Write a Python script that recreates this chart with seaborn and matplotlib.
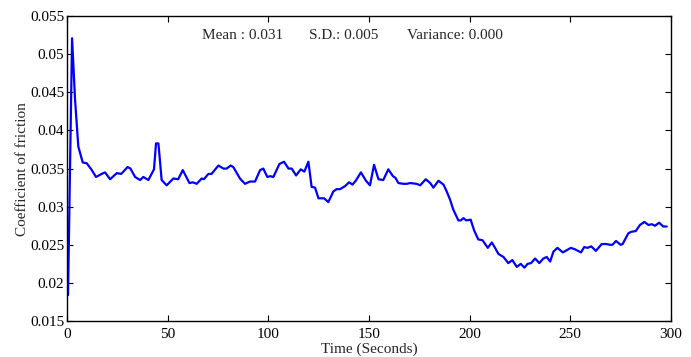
import matplotlib
matplotlib.use("Agg")
import matplotlib.pyplot as plt
import seaborn as sns
import pandas as pd

time_s = [0.5, 2.5, 4.0, 5.6, 7.8, 9.8, 12.3, 14.4, 17.2, 18.9, 21.4, 24.7, 26.9, 30.1, 31.5,
          33.8, 36.3, 37.9, 40.4, 43.2, 44.2, 45.4, 47.0, 49.5, 52.8, 55.2, 57.5, 60.8, 62.4,
          64.4, 66.9, 68.0, 70.2, 71.8, 75.2, 77.7, 79.3, 81.3, 82.6, 85.9, 88.4, 90.9, 93.4,
          95.9, 97.5, 99.5, 100.9, 102.5, 105.5, 107.8, 110.0, 111.6, 113.8, 116.1, 117.9,
          119.9, 121.5, 123.2, 124.9, 126.5, 127.7, 129.8, 132.3, 133.9, 135.6, 138.1, 140.1,
          141.8, 143.4, 146.0, 148.5, 150.5, 152.5, 154.7, 157.1, 159.6, 161.9, 163.1, 164.6,
          167.1, 168.8, 170.4, 173.7, 175.4, 178.2, 180.4, 182.0, 184.5, 187.0, 188.6, 190.3,
          191.9, 194.4, 195.6, 196.9, 198.3, 200.5, 202.2, 204.3, 206.4, 209.0, 211.0, 212.4,
          214.3, 216.8, 219.2, 221.2, 223.4, 225.4, 227.2, 228.8, 230.5, 232.5, 234.6, 236.6,
          238.3, 240.0, 241.6, 243.6, 246.3, 248.3, 250.3, 252.4, 255.3, 256.9, 258.6, 260.4,
          262.7, 265.6, 267.8, 269.8, 270.9, 272.7, 275.0, 276.0, 278.8, 280.2, 282.5, 284.6,
          286.8, 288.8, 290.5, 292.1, 294.1, 296.2, 297.9]
cof = [0.0184, 0.0521, 0.0440, 0.0379, 0.0358, 0.0357, 0.0348, 0.0339, 0.0343, 0.0345, 0.0336,
       0.0344, 0.0343, 0.0352, 0.0350, 0.0339, 0.0335, 0.0339, 0.0335, 0.0349, 0.0383, 0.0383,
       0.0335, 0.0328, 0.0337, 0.0336, 0.0348, 0.0331, 0.0332, 0.0330, 0.0337, 0.0336, 0.0343,
       0.0343, 0.0354, 0.0350, 0.0350, 0.0354, 0.0352, 0.0337, 0.0330, 0.0333, 0.0333, 0.0348,
       0.0350, 0.0339, 0.0340, 0.0339, 0.0356, 0.0359, 0.0350, 0.0350, 0.0341, 0.0349, 0.0346,
       0.0359, 0.0326, 0.0325, 0.0311, 0.0311, 0.0311, 0.0306, 0.0320, 0.0323, 0.0323, 0.0327,
       0.0332, 0.0329, 0.0334, 0.0345, 0.0334, 0.0328, 0.0355, 0.0336, 0.0335, 0.0349, 0.0340,
       0.0338, 0.0331, 0.0330, 0.0330, 0.0331, 0.0330, 0.0328, 0.0336, 0.0331, 0.0325, 0.0334,
       0.0329, 0.0320, 0.0309, 0.0296, 0.0282, 0.0282, 0.0285, 0.0282, 0.0283, 0.0269, 0.0257,
       0.0256, 0.0246, 0.0253, 0.0247, 0.0238, 0.0234, 0.0226, 0.0230, 0.0221, 0.0225, 0.0220,
       0.0225, 0.0226, 0.0232, 0.0226, 0.0232, 0.0234, 0.0228, 0.0241, 0.0246, 0.0240, 0.0243,
       0.0246, 0.0244, 0.0240, 0.0247, 0.0246, 0.0248, 0.0242, 0.0251, 0.0251, 0.0250, 0.0250,
       0.0255, 0.0250, 0.0251, 0.0265, 0.0267, 0.0268, 0.0276, 0.0280, 0.0276, 0.0277, 0.0275,
       0.0279, 0.0274, 0.0274]

x_ticks = [0, 50, 100, 150, 200, 250, 300]
y_ticks = [0.015, 0.02, 0.025, 0.03, 0.035, 0.04, 0.045, 0.05, 0.055]
y_tick_labels = ["0.015", "0.02", "0.025", "0.03", "0.035", "0.04", "0.045", "0.05", "0.055"]
stats_labels = ["Mean : 0.031", "S.D.: 0.005", "Variance: 0.000"]
x_label = "Time (Seconds)"
y_label = "Coefficient of friction"

sns.set_style("ticks")
plt.rcParams["font.family"] = ["Liberation Serif", "DejaVu Serif"]
plt.rcParams["xtick.direction"] = "in"
plt.rcParams["ytick.direction"] = "in"

fig = plt.figure(figsize=(6.91, 3.57), dpi=100)
ax = fig.add_axes([0.097, 0.1008, 0.874, 0.854])

df = pd.DataFrame({"t": time_s, "cof": cof})
sns.lineplot(data=df, x="t", y="cof", ax=ax, color="#0000ff", linewidth=1.6)

ax.set_xlim(0, 300)
ax.set_ylim(0.015, 0.055)
ax.set_xticks(x_ticks)
ax.set_xticklabels([str(v) for v in x_ticks])
ax.set_yticks(y_ticks)
ax.set_yticklabels(y_tick_labels)
ax.tick_params(axis="both", which="both", top=True, right=True, labelsize=11,
               length=4, width=0.8, color="black", labelcolor="black")
ax.tick_params(axis="x", pad=5)
ax.tick_params(axis="y", pad=2)
for s in ax.spines.values():
    s.set_visible(True)
    s.set_linewidth(1.0)
    s.set_color("black")

ax.set_xlabel(x_label, fontsize=11, labelpad=1)
ax.set_ylabel(y_label, fontsize=11, labelpad=1)

ax.text(0.224, 0.935, stats_labels[0], transform=ax.transAxes, fontsize=11, ha="left", va="center")
ax.text(0.401, 0.935, stats_labels[1], transform=ax.transAxes, fontsize=11, ha="left", va="center")
ax.text(0.563, 0.935, stats_labels[2], transform=ax.transAxes, fontsize=11, ha="left", va="center")

fig.savefig("out.png", dpi=100)
